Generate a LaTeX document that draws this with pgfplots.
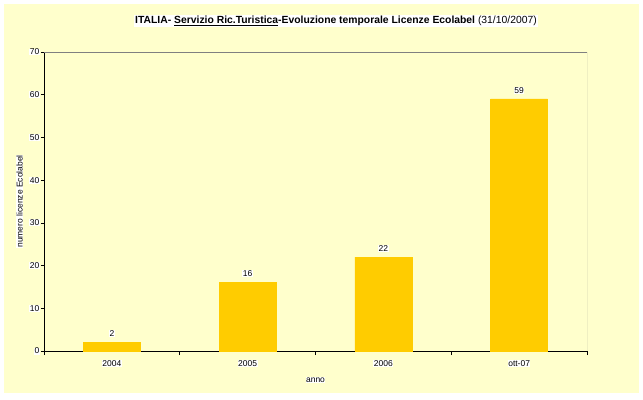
\documentclass[border=0pt]{standalone}
\usepackage{pgfplots}
\pgfplotsset{compat=1.18}
\usepackage{fontspec}
\setmainfont{Liberation Sans}
\definecolor{bgy}{HTML}{FFFFCC}
\definecolor{bary}{HTML}{FFCC00}
\begin{document}
\begin{tikzpicture}[x=1bp,y=1bp]
\fill[white] (0,0) rectangle (643,399);
\fill[bgy] (4,6) rectangle (639,395);
\node[fill=white,inner sep=1pt,font=\fontsize{10.4}{12}\selectfont] at (336,378) {\textbf{ITALIA- \underline{Servizio Ric.Turistica}-Evoluzione temporale Licenze Ecolabel} (31/10/2007)};
\begin{axis}[
  at={(44bp,48bp)}, anchor=south west,
  scale only axis, width=543bp, height=299bp,
  /pgf/number format/assume math mode=true,
  xmin=-0.5, xmax=3.5, ymin=0, ymax=70,
  axis x line*=bottom, axis y line*=left,
  axis line style={black, line width=0.8pt},
  ybar, bar width=57bp,
  xtick={0,1,2,3},
  xticklabels={2004,2005,2006,ott-07},
  minor xtick={-0.5,0.5,1.5,2.5,3.5},
  ytick={0,10,...,70},
  tick style={black, line width=0.6pt},
  tick align=outside,
  major tick length=3bp,
  x tick style={draw=none},
  minor x tick style={draw=black, line width=0.6pt},
  minor tick length=4bp,
  ticklabel style={font=\fontsize{8.5}{10}\selectfont, fill=white, inner sep=0.5pt},
  x tick label style={yshift=-6bp},
  y tick label style={xshift=-1bp},
  xlabel={anno}, ylabel={numero licenze Ecolabel},
  label style={font=\fontsize{8.5}{10}\selectfont, fill=white, inner sep=0.5pt},
  xlabel style={yshift=-10bp},
  ylabel style={yshift=6bp},
  nodes near coords,
  every node near coord/.append style={font=\fontsize{8.5}{10}\selectfont, fill=white, inner sep=0.5pt, yshift=5bp},
]
\addplot[fill=bary, draw=bary] coordinates {(0,2) (1,16) (2,22) (3,59)};
\draw[gray, line width=0.8pt] (rel axis cs:0,1) -- (rel axis cs:1,1) -- (rel axis cs:1,0);
\end{axis}
\end{tikzpicture}
\end{document}
